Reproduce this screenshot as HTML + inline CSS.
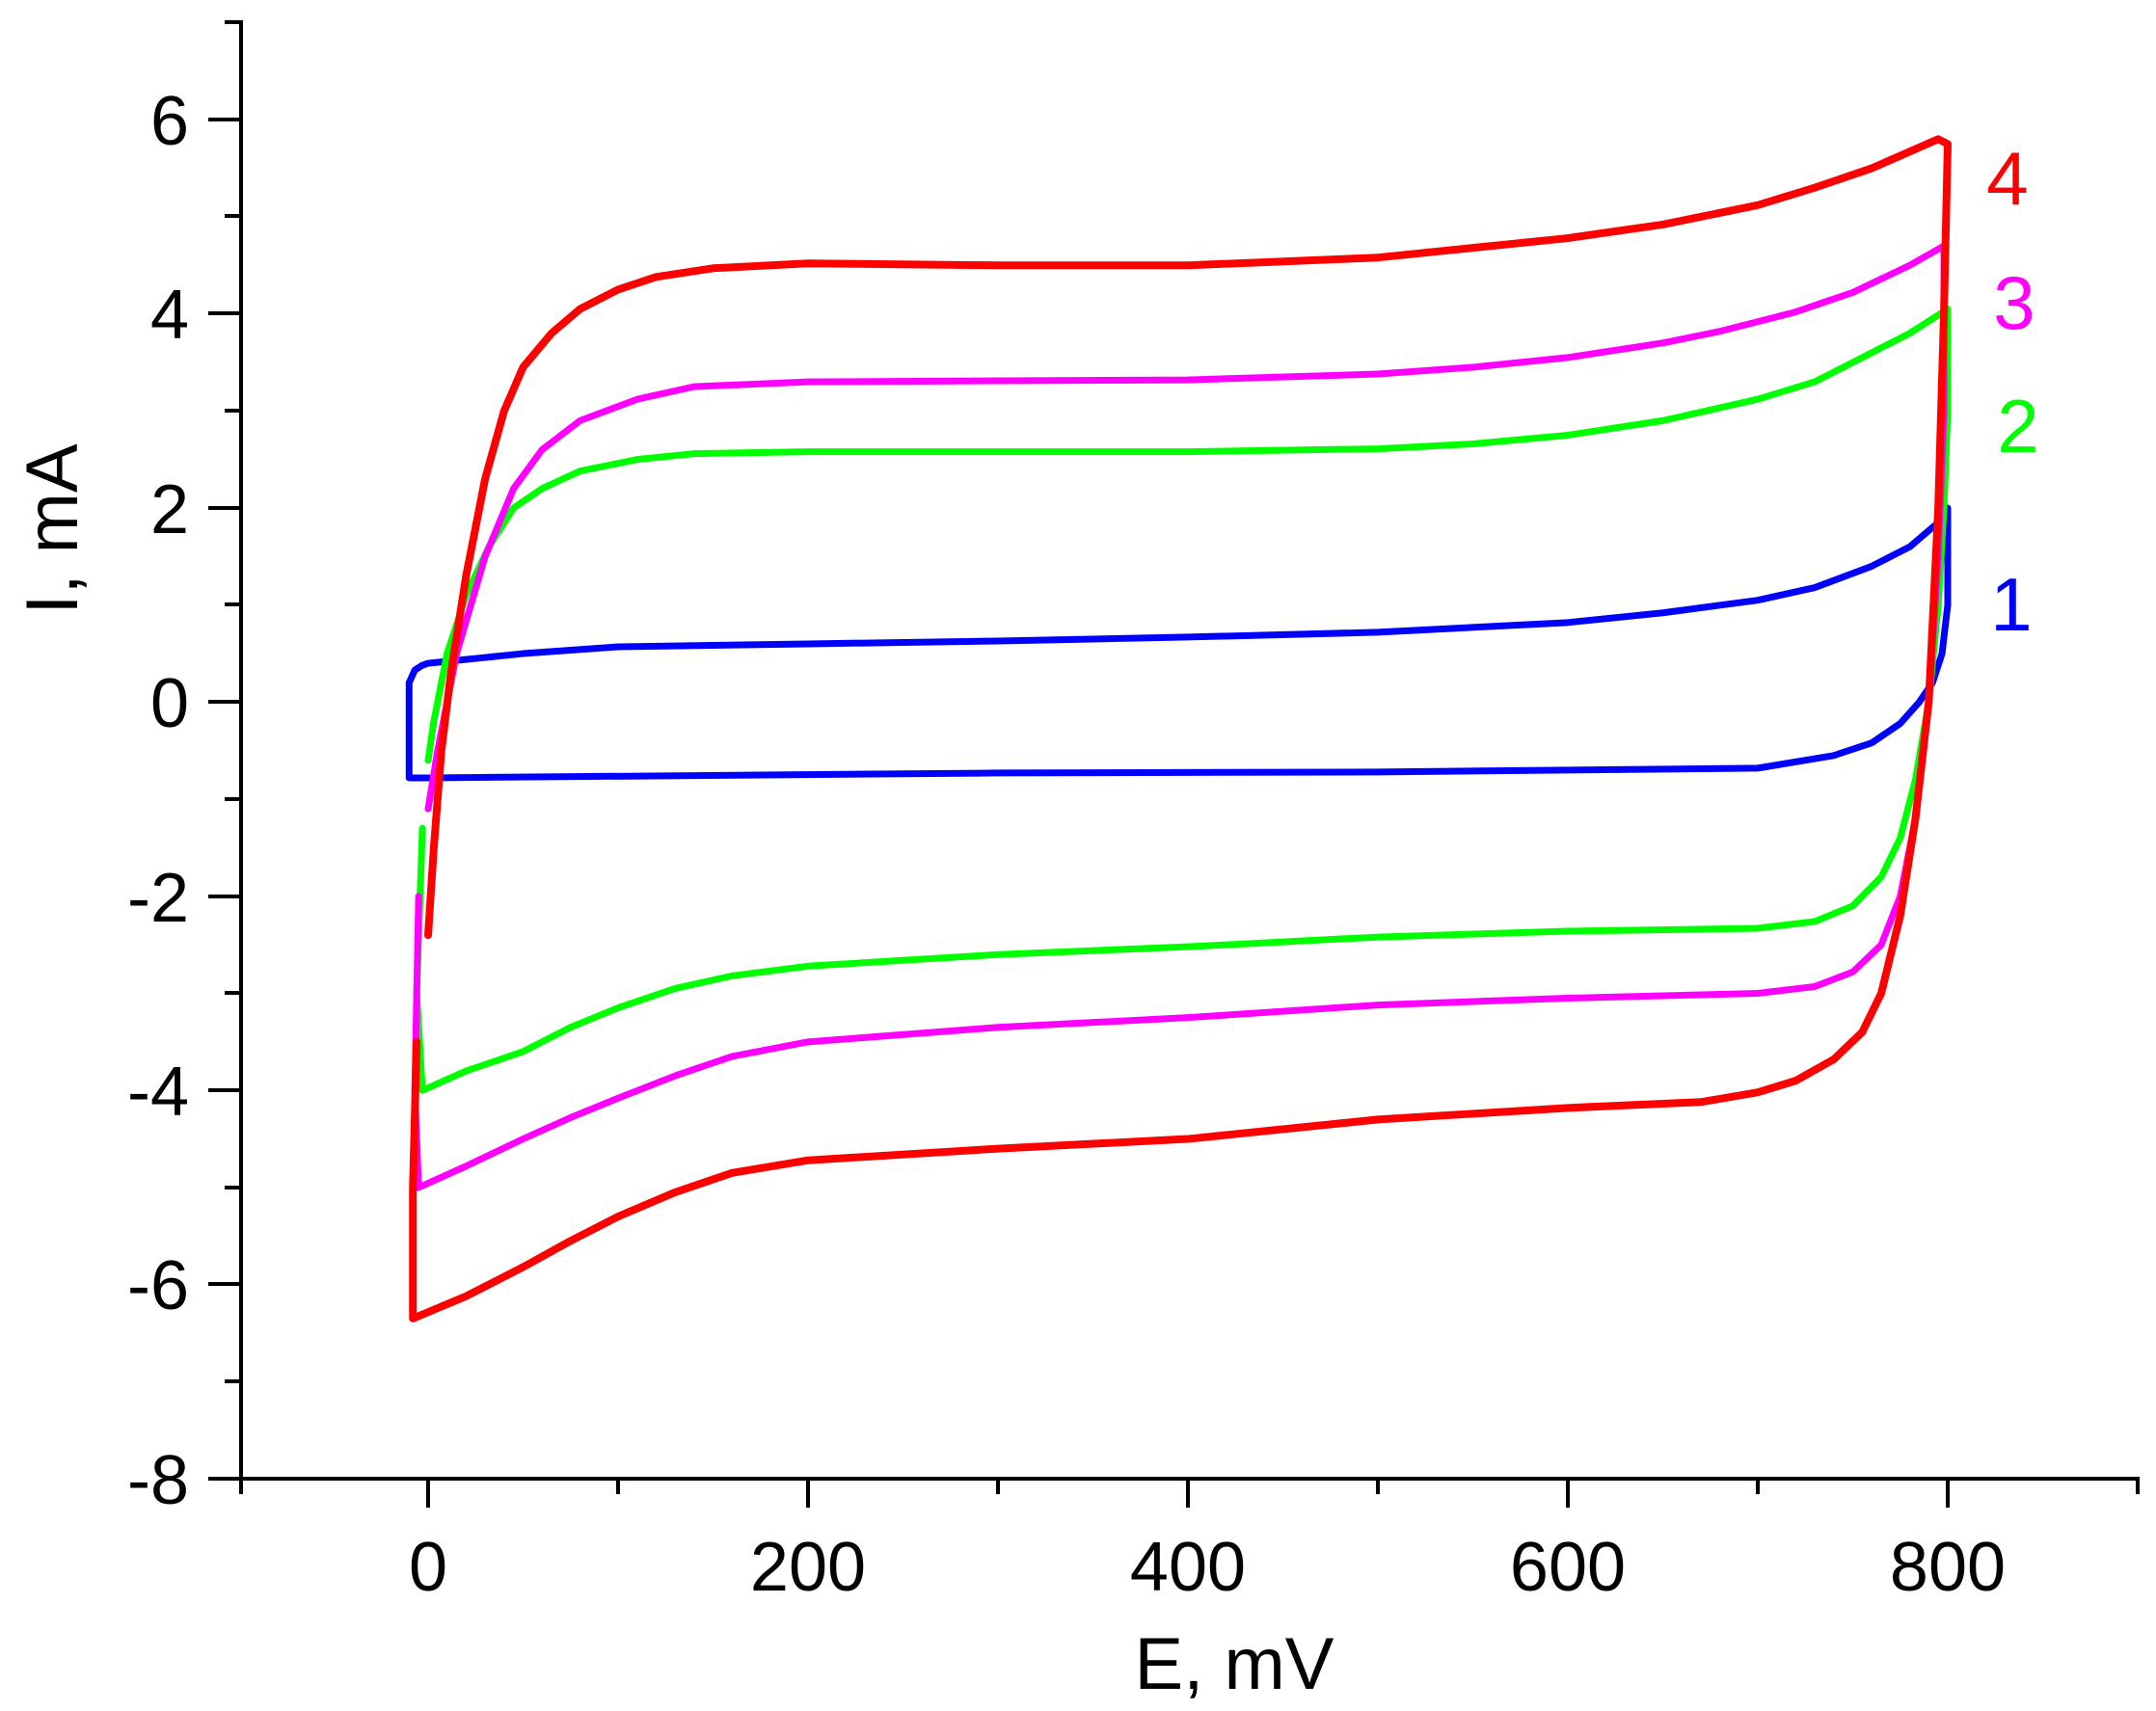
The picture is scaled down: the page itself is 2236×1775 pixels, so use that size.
<!DOCTYPE html>
<html><head><meta charset="utf-8"><style>
html,body{margin:0;padding:0;background:#fff}
svg{display:block}
text{font-family:"Liberation Sans",sans-serif;fill:#000}
</style></head><body>
<svg width="2236" height="1775" viewBox="0 0 2236 1775" xmlns="http://www.w3.org/2000/svg">
<g stroke="#000" stroke-width="4" fill="none">
<line x1="250" y1="21" x2="250" y2="1536"/>
<line x1="248" y1="1534" x2="2219" y2="1534"/>
<path d="M216 124H250M216 325H250M216 527H250M216 728H250M216 930H250M216 1131H250M216 1332H250M216 1534H250
M233 23H250M233 224H250M233 426H250M233 627H250M233 829H250M233 1030H250M233 1232H250M233 1433H250"/>
<path d="M444 1534V1564M838 1534V1564M1232 1534V1564M1626 1534V1564M2020 1534V1564
M250 1534V1550M641 1534V1550M1035 1534V1550M1429 1534V1550M1823 1534V1550M2217 1534V1550"/>
</g>
<g font-size="72" text-anchor="end">
<text x="196" y="150">6</text>
<text x="196" y="351">4</text>
<text x="196" y="553">2</text>
<text x="196" y="754">0</text>
<text x="196" y="956">-2</text>
<text x="196" y="1157">-4</text>
<text x="196" y="1358">-6</text>
<text x="196" y="1560">-8</text>
</g>
<g font-size="72" text-anchor="middle">
<text x="444" y="1650">0</text>
<text x="838" y="1650">200</text>
<text x="1232" y="1650">400</text>
<text x="1626" y="1650">600</text>
<text x="2020" y="1650">800</text>
<text x="1280" y="1752" font-size="76">E, mV</text>
<text transform="translate(80,549) rotate(-90)" font-size="76">I, mA</text>
</g>
<g font-size="78" text-anchor="middle">
<text x="2082" y="212" style="fill:#ff0000">4</text>
<text x="2089" y="341" style="fill:#ff00ff">3</text>
<text x="2093" y="469" style="fill:#00ff00">2</text>
<text x="2086" y="654" style="fill:#0000ff">1</text>
</g>
<g transform="matrix(1.97 0 0 -100.7 444 728.4)" fill="none" stroke-linejoin="round" stroke-linecap="round">
<polyline vector-effect="non-scaling-stroke" stroke="#0000ff" stroke-width="7" points="-10,-0.75 -10,0.2 -7,0.33 -3,0.38 0,0.4 50,0.5 100,0.57 200,0.6 300,0.63 400,0.67 500,0.72 600,0.82 650,0.92 700,1.05 730,1.18 760,1.4 780,1.6 795,1.85 800,2.0 800,1 797,0.5 792,0.2 785,0 775,-0.22 760,-0.42 740,-0.55 700,-0.68 500,-0.72 300,-0.73 0,-0.78 -10,-0.78 -10,-0.75"/>
<polyline vector-effect="non-scaling-stroke" stroke="#00ff00" stroke-width="7" points="-3,-1.3 -6,-3.0 -3,-4 20,-3.8 50,-3.6 75,-3.35 100,-3.15 130,-2.95 160,-2.82 200,-2.72 300,-2.6 400,-2.52 500,-2.42 600,-2.36 700,-2.33 730,-2.26 750,-2.1 765,-1.8 775,-1.4 783,-0.8 790,0 795,1 798,2 800,3 800,4.05 780,3.8 760,3.6 730,3.3 700,3.12 650,2.9 600,2.75 550,2.66 500,2.61 400,2.58 200,2.58 140,2.56 110,2.5 80,2.38 60,2.2 45,2 32,1.6 20,1.1 10,0.5 3,-0.2 0,-0.6"/>
<polyline vector-effect="non-scaling-stroke" stroke="#ff00ff" stroke-width="7" points="-5,-2 -7,-4 -5,-5.0 20,-4.78 50,-4.5 75,-4.28 100,-4.08 130,-3.85 160,-3.65 200,-3.5 300,-3.35 400,-3.25 500,-3.12 600,-3.05 700,-3.0 730,-2.93 750,-2.78 765,-2.5 775,-2.0 783,-1.2 790,0 795,1.5 798,3 798,4.7 780,4.5 750,4.22 720,4.02 680,3.82 650,3.7 600,3.55 550,3.45 500,3.38 400,3.32 200,3.3 140,3.25 110,3.12 80,2.9 60,2.6 45,2.2 30,1.5 15,0.5 5,-0.5 0,-1.1"/>
<polyline vector-effect="non-scaling-stroke" stroke="#ff0000" stroke-width="8" points="-6,-3.5 -8,-5 -8,-6.35 20,-6.12 50,-5.82 75,-5.55 100,-5.3 130,-5.05 160,-4.85 200,-4.72 300,-4.6 400,-4.5 500,-4.3 600,-4.18 670,-4.12 700,-4.02 720,-3.9 740,-3.68 755,-3.4 765,-3.0 775,-2.2 783,-1.2 790,0 795,2 798,4 800,5.75 795,5.8 760,5.5 730,5.3 700,5.12 650,4.92 600,4.78 550,4.68 500,4.58 400,4.5 300,4.5 200,4.52 150,4.47 120,4.38 100,4.25 80,4.05 65,3.8 50,3.45 40,3.0 30,2.3 20,1.3 12,0.3 7,-0.5 3,-1.5 0,-2.4"/>
</g>
</svg>
</body></html>
